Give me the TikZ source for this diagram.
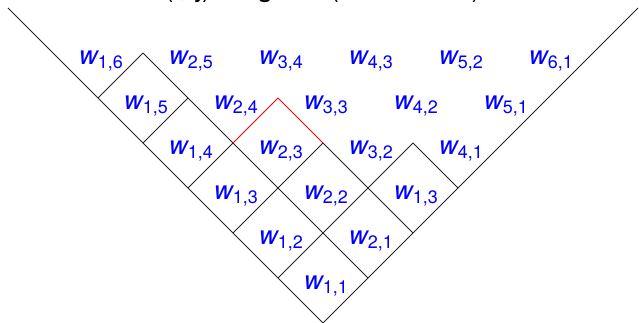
\documentclass[tikz,border=0pt]{standalone}
\usepackage{fontspec}
\setmainfont{TeX Gyre Heros}
\begin{document}
\begin{tikzpicture}[x=1pt,y=-1pt,
  gridline/.style={line width=0.9pt,black!85},
  hiline/.style={line width=0.9pt,red},
  lab/.style={inner sep=0pt,text=blue,font=\fontsize{26}{28}\selectfont,xshift=3pt,yshift=-8pt},
  titlestyle/.style={inner sep=0pt,anchor=base west,font=\fontsize{28.4}{30}\selectfont}]
\useasboundingbox (0,0) rectangle (639,323);
\foreach \a in {0,...,7}{
  \foreach \b in {0,...,7}{
    \coordinate (p\a\b) at ({323-45*\a+45*\b},{323-45*\a-45*\b});
  }
}
\newcommand{\wlab}[2]{{\itshape w}\raisebox{-4pt}{\fontsize{18}{18}\selectfont #1,#2}}
% title (cut off at the top)
\node[titlestyle] (title) at (164,-3.5) {(i, j) diagram (with labels)};
% outer V
\draw[gridline] (p70) -- (p00) -- (p07);
% lines of constant b
\draw[gridline] (p01) -- (p51);
\draw[gridline] (p02) -- (p22);
\draw[hiline] (p22) -- (p32);
\draw[gridline] (p03) -- (p13);
% lines of constant a
\draw[gridline] (p10) -- (p13);
\draw[gridline] (p20) -- (p22);
\draw[gridline] (p30) -- (p31);
\draw[hiline] (p31) -- (p32);
\draw[gridline] (p40) -- (p41);
\draw[gridline] (p50) -- (p51);
% labels
\foreach \i/\j in {1/1,1/2,2/1,1/3,2/2,1/4,2/3,3/2,4/1,1/5,2/4,3/3,4/2,5/1,1/6,2/5,3/4,4/3,5/2,6/1}{
  \node[lab] (w\i\j) at ({323-45*(\j-0.5)+45*(\i-0.5)},{323-45*(\j-0.5)-45*(\i-0.5)}) {\wlab{\i}{\j}};
}
\node[lab] (w31) at ({323-45*0.5+45*2.5},{323-45*0.5-45*2.5}) {\wlab{1}{3}};
\end{tikzpicture}
\end{document}
